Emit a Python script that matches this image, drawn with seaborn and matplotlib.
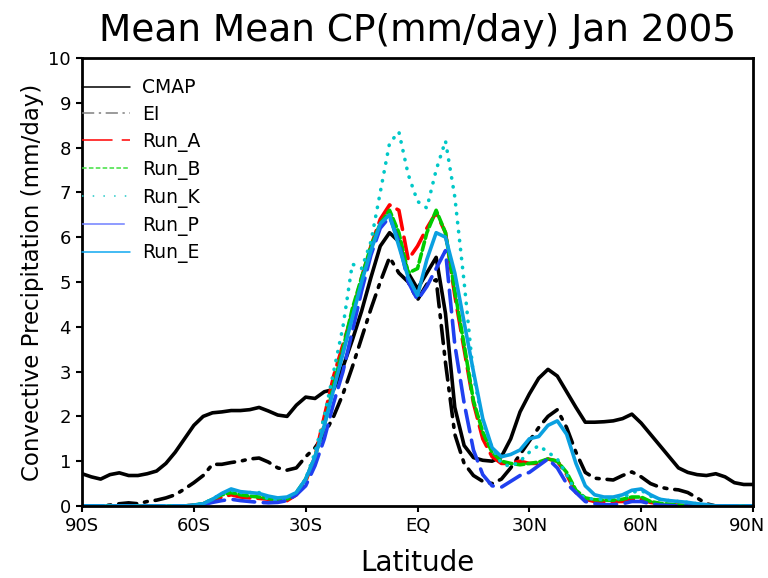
import numpy as np
import pandas as pd
import matplotlib
matplotlib.use("Agg")
import matplotlib.pyplot as plt
import matplotlib.transforms as mtransforms
from matplotlib.lines import Line2D
import seaborn as sns

lat = [-90, -87.5, -85, -82.5, -80, -77.5, -75, -72.5, -70, -67.5,
       -65, -62.5, -60, -57.5, -55, -52.5, -50, -47.5, -45, -42.5,
       -40, -37.5, -35, -32.5, -30, -27.5, -25, -22.5, -20, -17.5,
       -15, -12.5, -10, -7.5, -5, -2.5, 0, 2.5, 5, 7.5,
       10, 12.5, 15, 17.5, 20, 22.5, 25, 27.5, 30, 32.5,
       35, 37.5, 40, 42.5, 45, 47.5, 50, 52.5, 55, 57.5,
       60, 62.5, 65, 67.5, 70, 72.5, 75, 77.5, 80, 82.5,
       85, 87.5, 90]

cmap = [0.72, 0.65, 0.6, 0.7, 0.74, 0.68, 0.68, 0.72, 0.78, 0.95,
        1.2, 1.5, 1.8, 2.0, 2.08, 2.1, 2.13, 2.13, 2.15, 2.2,
        2.12, 2.03, 2.0, 2.25, 2.43, 2.4, 2.55, 2.6, 3.1, 3.7,
        4.35, 5.1, 5.8, 6.1, 5.9, 5.2, 4.85, 5.2, 5.55, 4.3,
        2.2, 1.35, 1.08, 1.02, 1.0, 1.1, 1.5, 2.1, 2.5, 2.85,
        3.05, 2.9, 2.55, 2.2, 1.87, 1.87, 1.88, 1.9, 1.95, 2.05,
        1.85, 1.6, 1.35, 1.1, 0.85, 0.75, 0.7, 0.68, 0.72, 0.65,
        0.52, 0.48, 0.48]

ei = [0.0, 0.0, 0.0, 0.02, 0.05, 0.07, 0.05, 0.1, 0.13, 0.18,
      0.25, 0.38, 0.52, 0.68, 0.93, 0.93, 0.97, 1.0, 1.05, 1.07,
      0.98, 0.85, 0.8, 0.85, 1.1, 1.3, 1.6, 2.0, 2.5, 3.1,
      3.75, 4.4, 5.0, 5.55, 5.2, 5.0, 4.6, 4.95, 5.05, 3.2,
      1.6, 0.95, 0.68, 0.55, 0.5, 0.6, 0.85, 1.15, 1.45, 1.75,
      2.0, 2.15, 1.75, 1.2, 0.75, 0.62, 0.6, 0.58, 0.68, 0.76,
      0.65, 0.5, 0.42, 0.38, 0.36, 0.3, 0.18, 0.05, 0.0, 0.0,
      0.0, 0.0, 0.0]

run_a = [0, 0, 0, 0, 0, 0, 0, 0, 0, 0,
         0, 0, 0.02, 0.05, 0.12, 0.2, 0.25, 0.2, 0.18, 0.17,
         0.15, 0.1, 0.12, 0.25, 0.55, 1.1, 2.0, 2.9, 3.6, 4.3,
         5.1, 5.8, 6.4, 6.72, 6.6, 5.5, 5.8, 6.2, 6.55, 6.1,
         4.7, 3.5, 2.3, 1.5, 1.1, 0.95, 0.95, 1.0, 0.95, 0.95,
         1.05, 1.0, 0.7, 0.3, 0.15, 0.1, 0.1, 0.1, 0.1, 0.15,
         0.15, 0.08, 0.05, 0.03, 0.02, 0, 0, 0, 0, 0,
         0, 0, 0]

run_b = [0, 0, 0, 0, 0, 0, 0, 0, 0, 0,
         0, 0, 0.02, 0.05, 0.15, 0.25, 0.3, 0.25, 0.22, 0.2,
         0.17, 0.12, 0.15, 0.3, 0.6, 1.1, 1.8, 2.7, 3.5, 4.4,
         5.1, 5.8, 6.3, 6.6, 6.1, 5.2, 5.3, 6.1, 6.6, 6.1,
         4.8, 3.6, 2.35, 1.65, 1.2, 1.0, 0.95, 0.92, 0.95, 0.98,
         1.05, 1.0, 0.75, 0.35, 0.18, 0.14, 0.13, 0.13, 0.15, 0.2,
         0.2, 0.1, 0.06, 0.04, 0.02, 0, 0, 0, 0, 0,
         0, 0, 0]

run_k = [0, 0, 0, 0, 0, 0, 0, 0, 0, 0,
         0, 0, 0.02, 0.06, 0.15, 0.28, 0.35, 0.3, 0.3, 0.3,
         0.15, 0.12, 0.15, 0.3, 0.6, 1.2, 2.0, 3.0, 4.0, 5.4,
         5.3, 5.9, 7.0, 8.1, 8.35, 7.4, 6.8, 6.65, 7.5, 8.15,
         6.9, 5.0, 2.9, 1.9, 1.3, 0.95, 0.88, 1.0, 1.2, 1.35,
         1.2, 1.05, 0.7, 0.3, 0.18, 0.15, 0.15, 0.15, 0.18, 0.3,
         0.35, 0.22, 0.15, 0.12, 0.1, 0.08, 0.05, 0.02, 0, 0,
         0, 0, 0]

run_p = [0, 0, 0, 0, 0, 0, 0, 0, 0, 0,
         0, 0, 0.01, 0.03, 0.08, 0.12, 0.15, 0.12, 0.1, 0.08,
         0.07, 0.08, 0.12, 0.25, 0.45, 0.9, 1.5, 2.3, 3.0, 3.9,
         4.8, 5.6, 6.2, 6.45, 5.9, 5.0, 4.6, 4.9, 5.3, 5.7,
         3.6, 2.3, 1.25, 0.7, 0.45, 0.42, 0.55, 0.68, 0.75, 0.9,
         1.05, 0.85, 0.5, 0.3, 0.1, 0.05, 0.03, 0.03, 0.05, 0.1,
         0.1, 0.05, 0.02, 0.01, 0, 0, 0, 0, 0, 0,
         0, 0, 0]

run_e = [0, 0, 0, 0, 0, 0, 0, 0, 0, 0,
         0, 0, 0.02, 0.05, 0.15, 0.28, 0.38, 0.32, 0.3, 0.28,
         0.22, 0.18, 0.2, 0.3, 0.6, 1.1, 1.8, 2.6, 3.4, 4.2,
         5.0, 5.7, 6.3, 6.5, 5.8, 5.1, 4.7, 5.5, 6.1, 6.0,
         5.2, 4.1, 3.0, 1.95, 1.3, 1.1, 1.15, 1.25, 1.5, 1.55,
         1.8, 1.9, 1.6, 0.95, 0.45, 0.25, 0.2, 0.2, 0.25, 0.35,
         0.38, 0.25, 0.15, 0.12, 0.1, 0.08, 0.05, 0.03, 0, 0,
         0, 0, 0]

names = ["CMAP", "EI", "Run_A", "Run_B", "Run_K", "Run_P", "Run_E"]
series = [cmap, ei, run_a, run_b, run_k, run_p, run_e]
colors = ["black", "black", "#ff0000", "#00cc00", "#00c8c8", "#2040f0", "#0aa0e0"]
styles = ["-", (0, (5, 2.2, 0.8, 2.2)), (0, (6, 2.2)), (0, (2.4, 1.0)),
          (0, (0.1, 2.4)), (0, (6, 2.4)), "-"]
leg_colors = ["black", "#808080", "#ff0000", "#40e040", "#20c8c8", "#7080ff", "#10a8f0"]
leg_styles = ["-", (0, (8, 3, 1.5, 3)), (0, (20, 6)), (0, (3, 1.5)),
              (0, (1, 6)), (0, (28, 8)), "-"]

df = pd.DataFrame({"lat": lat})
for n, s in zip(names, series):
    df[n] = s

sns.set_style("ticks")
plt.rcParams["font.family"] = ["DejaVu Sans"]
plt.rcParams["text.color"] = "black"
plt.rcParams["axes.labelcolor"] = "black"
plt.rcParams["xtick.color"] = "black"
plt.rcParams["ytick.color"] = "black"

fig = plt.figure(figsize=(7.68, 5.78), dpi=100)
ax = fig.add_axes([0.1068, 0.1246, 0.8737, 0.7751])

for n, c, ls in zip(names, colors, styles):
    sns.lineplot(data=df, x="lat", y=n, ax=ax, color=c, linestyle=ls,
                 linewidth=2.6, dash_capstyle="round", legend=False)

ax.set_xlim(-90, 90)
ax.set_ylim(0, 10)
ax.set_xticks([-90, -60, -30, 0, 30, 60, 90])
ax.set_xticklabels(["90S", "60S", "30S", "EQ", "30N", "60N", "90N"])
ax.set_yticks(range(0, 11))
ax.tick_params(axis="both", direction="out", length=4, width=1.5, labelsize=13, pad=4)
for sp in ax.spines.values():
    sp.set_visible(True)
    sp.set_linewidth(2)
    sp.set_color("black")

# keep "90N" inside the canvas
last = ax.get_xticklabels()[-1]
last.set_transform(last.get_transform() +
                   mtransforms.ScaledTranslation(-4 / 72, 0, fig.dpi_scale_trans))

ax.set_title("Mean Mean CP(mm/day) Jan 2005", fontsize=27, pad=12)
ax.set_xlabel("Latitude", fontsize=20, labelpad=10)
ax.set_ylabel("Convective Precipitation (mm/day)", fontsize=16.5, labelpad=3)

handles = [Line2D([], [], color=c, linestyle=ls, linewidth=1.1)
           for c, ls in zip(leg_colors, leg_styles)]
ax.legend(handles, names, loc="upper left", bbox_to_anchor=(0.0, 0.955),
          frameon=False, fontsize=13.5, handlelength=2.55, handletextpad=0.65,
          labelspacing=0.42, borderpad=0, borderaxespad=0)

fig.savefig("out.png", dpi=100)
